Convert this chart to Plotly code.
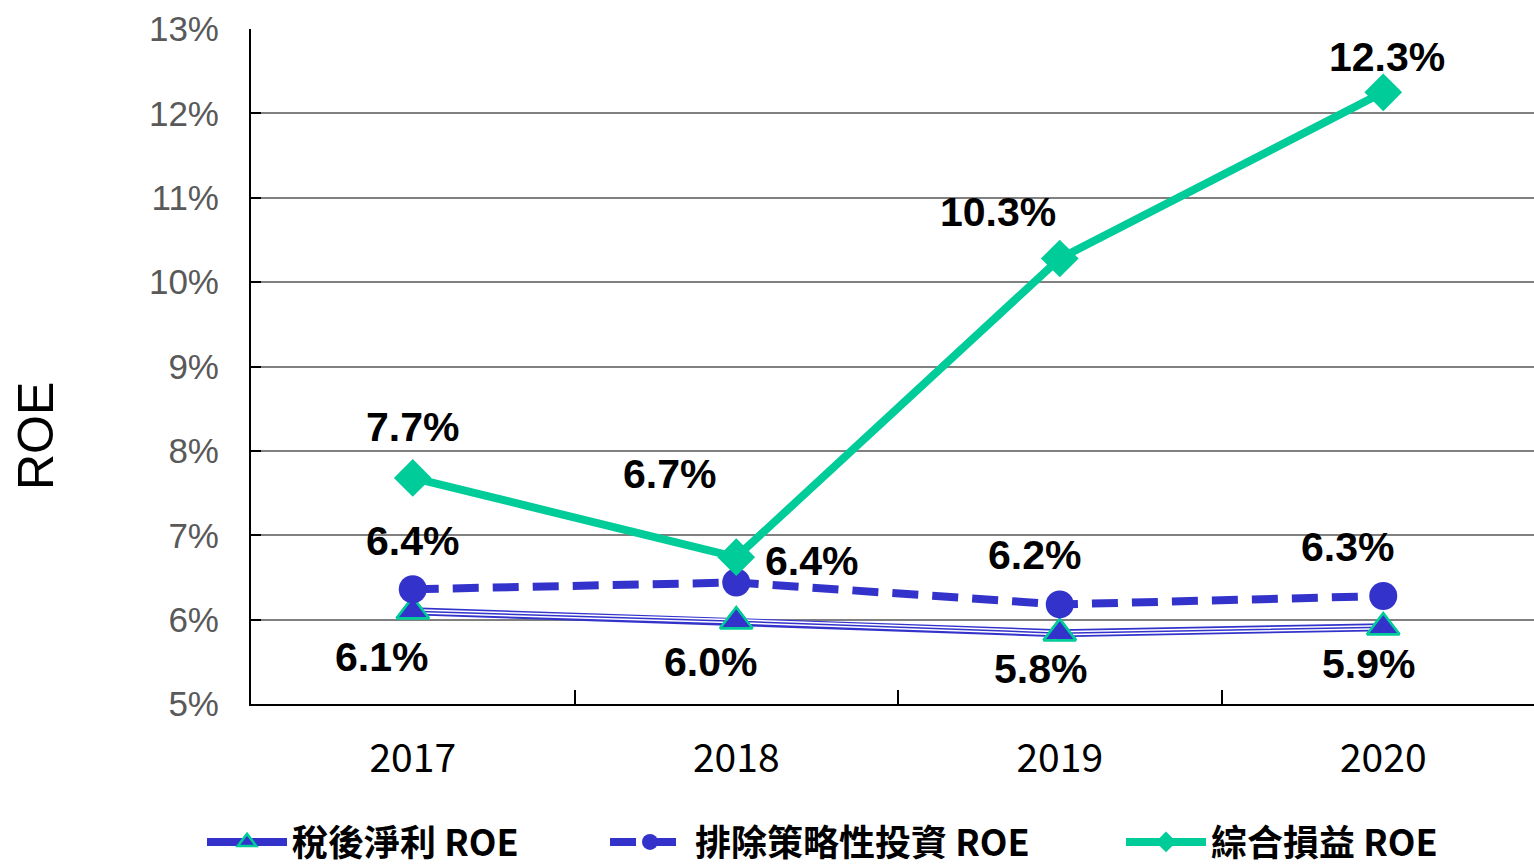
import plotly.graph_objects as go

# ---- data ----
years = ["2017", "2018", "2019", "2020"]
roe_net = [6.1, 5.98, 5.84, 5.91]          # 稅後淨利 ROE
roe_ex_strategic = [6.36, 6.44, 6.18, 6.28]  # 排除策略性投資 ROE
roe_comprehensive = [7.68, 6.74, 10.28, 12.25]  # 綜合損益 ROE
label_net = ["6.1%", "6.0%", "5.8%", "5.9%"]
label_ex = ["6.4%", "6.4%", "6.2%", "6.3%"]
label_comp = ["7.7%", "6.7%", "10.3%", "12.3%"]
series_names = ["稅後淨利 ROE", "排除策略性投資 ROE", "綜合損益 ROE"]
y_ticks = [5, 6, 7, 8, 9, 10, 11, 12, 13]
y_ticktext = [f"{v}%" for v in y_ticks]

# ---- styling ----
BLUE = "#3333CC"
GREEN = "#00CC99"
LAB_FONT = dict(family="Liberation Sans, Arial", size=41, color="black")
CJK = "Noto Sans CJK TC"

# label offsets (px) for each series
off_net = [(-31, -46), (-26, -41), (-19, -36), (-15, -37)]
off_ex = [(0, 48), (75, 22), (-25, 49), (-36, 49)]
off_comp = [(0, 51), (-67, 83), (-62, 47), (4, 35)]

TRI = dict(symbol="triangle-up", size=28, color=BLUE, line=dict(color=GREEN, width=2.5))

fig = go.Figure()

# 稅後淨利 ROE: triple line (blue / white / blue)
fig.add_trace(go.Scatter(
    x=years, y=roe_net, mode="lines+markers", name=series_names[0],
    line=dict(color=BLUE, width=8), marker=TRI, legend="legend"))
fig.add_trace(go.Scatter(x=years, y=roe_net, mode="lines", showlegend=False,
                         line=dict(color="white", width=4.5), hoverinfo="skip"))
fig.add_trace(go.Scatter(x=years, y=roe_net, mode="lines", showlegend=False,
                         line=dict(color=BLUE, width=1.5), hoverinfo="skip"))
fig.add_trace(go.Scatter(x=years, y=roe_net, mode="markers", showlegend=False, marker=TRI))

# 排除策略性投資 ROE
fig.add_trace(go.Scatter(
    x=years, y=roe_ex_strategic, mode="lines+markers", name=series_names[1],
    line=dict(color=BLUE, width=8, dash="26px,14px"),
    marker=dict(symbol="circle", size=28, color=BLUE),
    legend="legend2"))

# 綜合損益 ROE
fig.add_trace(go.Scatter(
    x=years, y=roe_comprehensive, mode="lines+markers", name=series_names[2],
    line=dict(color=GREEN, width=8),
    marker=dict(symbol="diamond", size=29, color=GREEN),
    legend="legend3"))

annotations = []
for vals, labs, offs in ((roe_net, label_net, off_net),
                         (roe_ex_strategic, label_ex, off_ex),
                         (roe_comprehensive, label_comp, off_comp)):
    for i, (yv, t, (dx, dy)) in enumerate(zip(vals, labs, offs)):
        annotations.append(dict(x=i, y=yv, xref="x", yref="y", text=f"<b>{t}</b>",
                                showarrow=False, xshift=dx, yshift=dy,
                                xanchor="center", yanchor="middle", font=LAB_FONT))

L, R, T, B = 251, 0, 29, 161
W, H = 1534, 865
PW, PH = W - L - R, H - T - B

def px_x(p):
    return (p - L) / PW

def px_y(p):
    return (H - B - p) / PH

annotations.append(dict(x=px_x(36), y=px_y(436), xref="paper", yref="paper", text="ROE",
                        textangle=-90, showarrow=False, xanchor="center", yanchor="middle",
                        font=dict(family="Liberation Sans, Arial", size=50, color="black")))

leg_common = dict(orientation="h", yanchor="middle", xanchor="left",
                  xref="container", yref="container",
                  font=dict(family=CJK, size=36, color="black", weight="bold"),
                  itemwidth=80, bgcolor="rgba(0,0,0,0)", borderwidth=0)

LEG_Y = 1 - 842 / H
fig.update_layout(
    width=W, height=H,
    margin=dict(l=L, r=R, t=T, b=B, autoexpand=False),
    plot_bgcolor="white", paper_bgcolor="white",
    annotations=annotations,
    legend=dict(x=202 / W, y=LEG_Y, **leg_common),
    legend2=dict(x=605 / W, y=LEG_Y, **leg_common),
    legend3=dict(x=1121 / W, y=LEG_Y, **leg_common),
    xaxis=dict(type="category", range=[-0.5, 3.466], showgrid=False, automargin=False,
               showline=True, linecolor="black", linewidth=2,
               ticks="inside", ticklen=14, tickwidth=2, tickcolor="black",
               tickson="boundaries", ticklabelstandoff=19,
               tickfont=dict(family=CJK, size=39, color="black")),
    yaxis=dict(range=[5, 13], tickvals=y_ticks, ticktext=y_ticktext, automargin=False,
               showgrid=True, gridcolor="#808080", gridwidth=2,
               showline=True, linecolor="black", linewidth=2,
               ticks="inside", ticklen=10, tickwidth=2, tickcolor="black",
               ticklabelstandoff=23,
               tickfont=dict(family="Liberation Sans, Arial", size=35, color="#595959"),
               zeroline=False),
)

fig.write_html("out.html", config={"displayModeBar": False},
               post_script="document.body.style.margin='0';document.body.style.overflow='hidden';")
